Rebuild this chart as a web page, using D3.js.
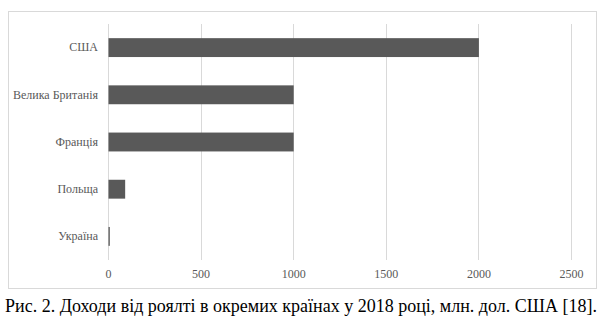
<!DOCTYPE html>
<html>
<head>
<meta charset="utf-8">
<script src="https://cdn.jsdelivr.net/npm/d3@7"></script>
<style>
  html, body { margin: 0; padding: 0; background: #fff; }
  svg { display: block; }
  svg text { font-family: "Liberation Serif", "Times New Roman", Times, serif; }
</style>
</head>
<body>
<svg id="chart" width="600" height="324"></svg>
<script>
// Royalty income by country, 2018 (mln USD)
const countries = ["США", "Велика Британія", "Франція", "Польща", "Україна"];
const values = [2000, 1000, 1000, 90, 7];
const ticks = [0, 500, 1000, 1500, 2000, 2500];
const caption = "Рис. 2. Доходи від роялті в окремих країнах у 2018 році, млн. дол. США [18].";

const svg = d3.select("#chart");

// Chart frame
svg.append("rect")
  .attr("x", 8.5).attr("y", 11.5)
  .attr("width", 588).attr("height", 277)
  .attr("fill", "#fff")
  .attr("stroke", "#d9d9d9")
  .attr("stroke-width", 1);

const plot = { left: 108, right: 571, top: 24, bottom: 260 };

const x = d3.scaleLinear().domain([0, 2500]).range([plot.left, plot.right]);
const y = d3.scaleBand().domain(countries).range([plot.top, plot.bottom]).paddingInner(0.6).paddingOuter(0.3);

// Vertical gridlines
svg.append("g").selectAll("line").data(ticks).join("line")
  .attr("x1", d => Math.round(x(d)) + 0.5)
  .attr("x2", d => Math.round(x(d)) + 0.5)
  .attr("y1", plot.top).attr("y2", plot.bottom)
  .attr("stroke", "#d9d9d9").attr("stroke-width", 1);

// Bars
svg.append("g").selectAll("rect").data(countries).join("rect")
  .attr("x", x(0) + 0.5)
  .attr("y", d => y(d))
  .attr("width", (d, i) => Math.max(1.2, x(values[i]) - x(0)))
  .attr("height", y.bandwidth())
  .attr("fill", "#595959");

// Category labels
const yAxis = d3.axisLeft(y).tickSize(0).tickPadding(10);
const gy = svg.append("g").attr("transform", `translate(${plot.left},0)`).call(yAxis)
  .attr("font-family", null);
gy.select(".domain").remove();
gy.selectAll("text")
  .style("font-size", "12px").attr("fill", "#595959");

// Value axis labels
const xAxis = d3.axisBottom(x).tickValues(ticks).tickFormat(d3.format("d")).tickSize(0).tickPadding(9);
const gx = svg.append("g").attr("transform", `translate(0,${plot.bottom})`).call(xAxis)
  .attr("font-family", null);
gx.select(".domain").remove();
gx.selectAll("text")
  .style("font-size", "12px").attr("fill", "#595959");

// Caption
svg.append("text")
  .attr("x", 301).attr("y", 312)
  .attr("text-anchor", "middle")
  .style("font-size", "18px").attr("fill", "#000")
  .text(caption);
</script>
</body>
</html>
